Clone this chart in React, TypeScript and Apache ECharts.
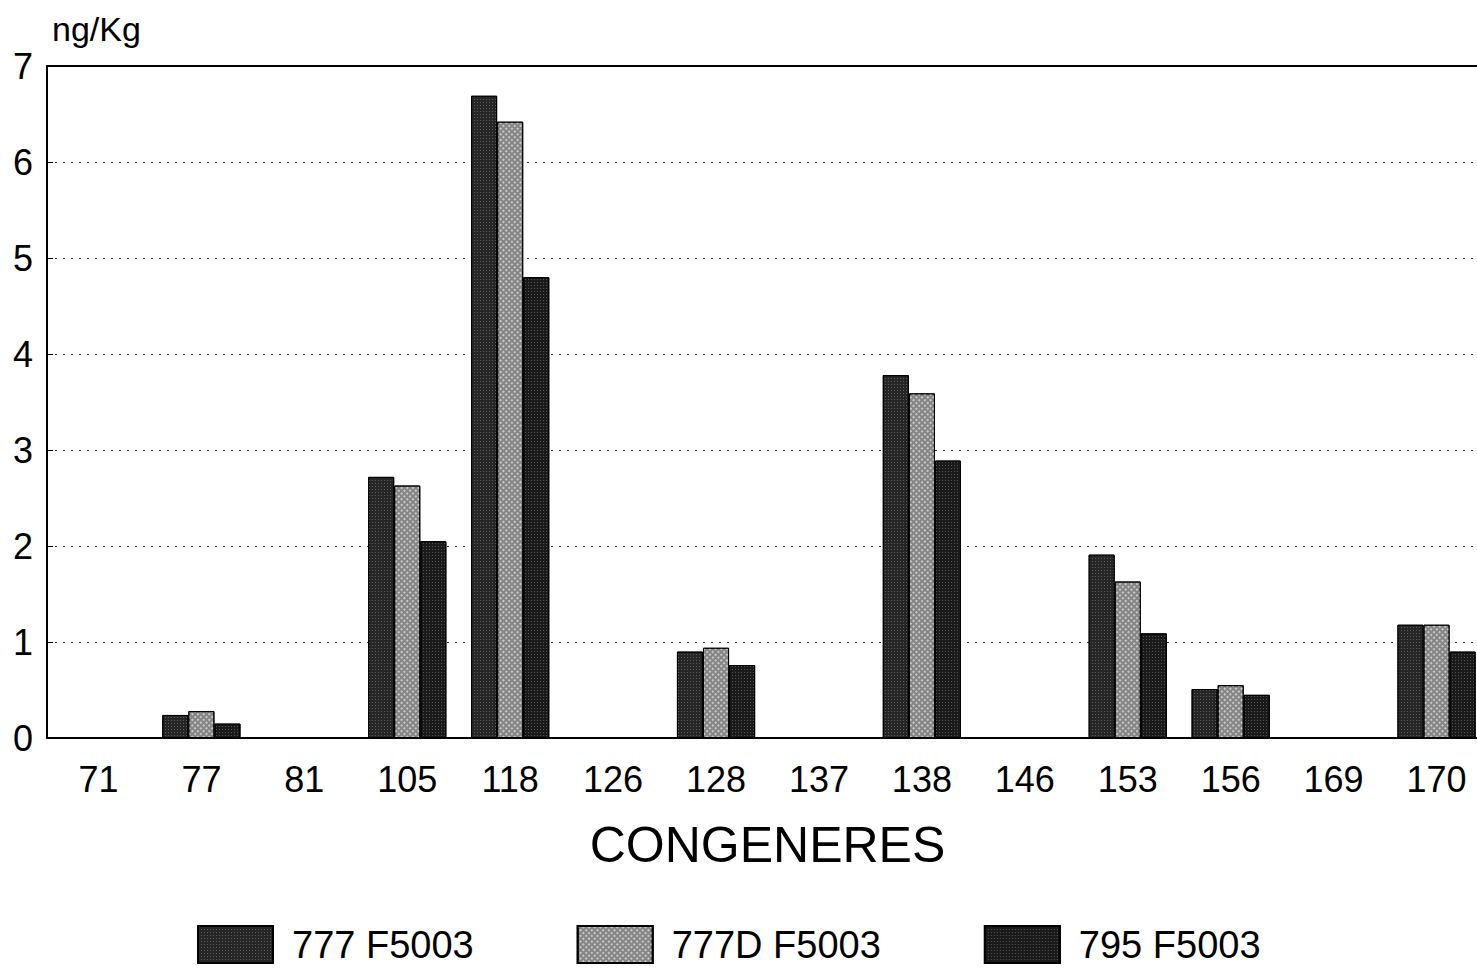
import React, { useEffect, useRef } from "react";
import * as echarts from "echarts";

const categories = ["71", "77", "81", "105", "118", "126", "128", "137", "138", "146", "153", "156", "169", "170"];
const seriesNames = ["777 F5003", "777D F5003", "795 F5003"];
const s777 = [0, 0.24, 0, 2.72, 6.69, 0, 0.9, 0, 3.78, 0, 1.91, 0.51, 0, 1.18];
const s777D = [0, 0.28, 0, 2.63, 6.42, 0, 0.94, 0, 3.59, 0, 1.63, 0.55, 0, 1.18];
const s795 = [0, 0.15, 0, 2.05, 4.8, 0, 0.76, 0, 2.89, 0, 1.09, 0.45, 0, 0.9];
const yTicks = [0, 1, 2, 3, 4, 5, 6, 7];

const FONT = "'Liberation Sans', Arial, sans-serif";

export default function App() {
  const ref = useRef<HTMLDivElement>(null);
  useEffect(() => {
    if (!ref.current) return;
    const chart = echarts.init(ref.current, null, { renderer: "svg" });
    const dotDecal = {
      symbol: "rect",
      symbolSize: 1,
      color: "rgba(255,255,255,0.25)",
      dashArrayX: [1, 2],
      dashArrayY: [1, 2],
      rotation: 0,
    };
    const checkDecal = {
      symbol: "rect",
      symbolSize: 1,
      color: "rgba(255,255,255,0.55)",
      dashArrayX: [2, 2],
      dashArrayY: [2, 2],
      rotation: Math.PI / 4,
    };
    const mk = (name: string, data: number[], color: string, decal: any) => ({
      name,
      type: "bar",
      data,
      barGap: "0%",
      barCategoryGap: "24%",
      itemStyle: { color, borderColor: "#000", borderWidth: 1, decal },
    });
    chart.setOption({
      animation: false,
      backgroundColor: "#fff",
      grid: { left: 47, right: 0, top: 66, bottom: 972 - 738 },
      legend: {
        left: 197,
        top: 925,
        padding: 0,
        itemWidth: 75,
        itemHeight: 37,
        itemGap: 103,
        icon: "rect",
        data: seriesNames,
        textStyle: { fontSize: 38, fontFamily: FONT, color: "#000", padding: [16, 0, 0, 14] },
      },
      xAxis: [
        {
          type: "category",
          data: categories,
          name: "CONGENERES",
          nameLocation: "middle",
          nameGap: 82,
          nameTextStyle: { fontSize: 50, fontFamily: FONT, color: "#000" },
          axisLine: { lineStyle: { color: "#000", width: 2 } },
          axisTick: { show: false },
          axisLabel: { fontSize: 36, fontFamily: FONT, color: "#000", margin: 23 },
        },
        {
          type: "category",
          position: "top",
          data: categories,
          axisLine: { show: true, lineStyle: { color: "#000", width: 2 } },
          axisTick: { show: false },
          axisLabel: { show: false },
        },
      ],
      yAxis: {
        type: "value",
        min: yTicks[0],
        max: yTicks[yTicks.length - 1],
        interval: 1,
        name: "ng/Kg",
        nameLocation: "end",
        nameGap: 20,
        nameTextStyle: { fontSize: 34, fontFamily: FONT, color: "#000", align: "left", padding: [0, 0, 0, 5] },
        axisLine: { show: true, lineStyle: { color: "#000", width: 2 } },
        axisTick: { show: true, inside: true, length: 6, lineStyle: { color: "#000" } },
        axisLabel: { fontSize: 36, fontFamily: FONT, color: "#000", margin: 14 },
        splitLine: { show: true, lineStyle: { color: "#333", type: [2, 6], width: 1 } },
      },
      series: [
        mk(seriesNames[0], s777, "#262626", dotDecal),
        mk(seriesNames[1], s777D, "#858585", checkDecal),
        mk(seriesNames[2], s795, "#1a1a1a", dotDecal),
      ],
    });
    return () => chart.dispose();
  }, []);
  return (
    <div
      ref={ref}
      style={{ position: "fixed", left: 0, top: 0, width: 1488, height: 972, background: "#fff" }}
    />
  );
}
